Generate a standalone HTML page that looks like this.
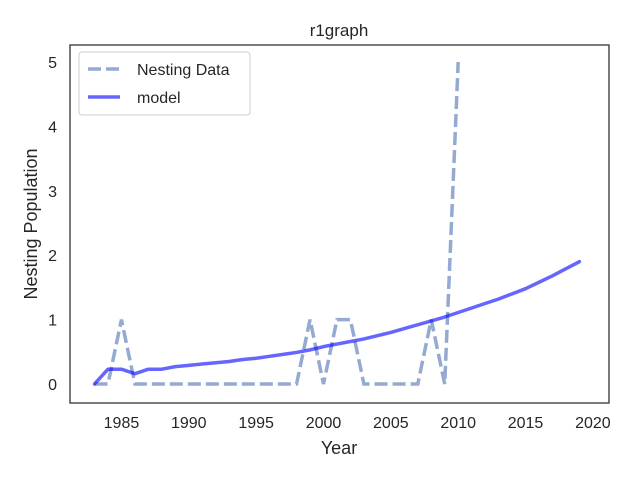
<!DOCTYPE html>
<html><head><meta charset="utf-8"><style>
body{margin:0;background:#fff;}
text{font-family:"Liberation Sans","DejaVu Sans",sans-serif;fill:#262626;}
</style></head><body>
<svg id="c" width="640" height="480" xmlns="http://www.w3.org/2000/svg">
<rect width="640" height="480" fill="#fff"/>
<text x="339" y="36" font-size="17" text-anchor="middle">r1graph</text>
<g id="ticks"></g>
<g id="plot"></g>
<rect x="70" y="45" width="539" height="358" fill="none" stroke="#333" stroke-width="1.3"/>
<text x="339" y="454" font-size="18" text-anchor="middle">Year</text>
<text transform="translate(37,224) rotate(-90)" font-size="18" text-anchor="middle">Nesting Population</text>
<g>
<rect x="79" y="52" width="171" height="63" rx="3" fill="#fff" stroke="#ccc"/>
<line x1="88" y1="69" x2="120" y2="69" stroke="#4c72b0" stroke-opacity="0.6" stroke-width="3.5" stroke-dasharray="13,5"/>
<text x="137" y="75" font-size="16">Nesting Data</text>
<line x1="88" y1="97" x2="120" y2="97" stroke="#0000ff" stroke-opacity="0.6" stroke-width="3.5"/>
<text x="137" y="103" font-size="16">model</text>
</g>
</svg>
<script>
const years=[1983,1984,1985,1986,1987,1988,1989,1990,1991,1992,1993,1994,1995,1996,1997,1998,1999,2000,2001,2002,2003,2004,2005,2006,2007,2008,2009,2010];
const nestingData=[0,0,1,0,0,0,0,0,0,0,0,0,0,0,0,0,1,0,1,1,0,0,0,0,0,1,0,5];
const modelYears=[1983,1984,1985,1986,1987,1988,1989,1990,1991,1992,1993,1994,1995,1996,1997,1998,1999,2000,2001,2002,2003,2004,2005,2006,2007,2008,2009,2010,2011,2012,2013,2014,2015,2016,2017,2018,2019];
const modelValues=[0,0.23,0.23,0.16,0.23,0.23,0.27,0.29,0.31,0.33,0.35,0.38,0.40,0.43,0.46,0.49,0.53,0.58,0.62,0.66,0.70,0.75,0.80,0.86,0.92,0.98,1.04,1.11,1.18,1.25,1.32,1.40,1.48,1.58,1.68,1.79,1.90];
const xTicks=[1985,1990,1995,2000,2005,2010,2015,2020];
const yTicks=[0,1,2,3,4,5];
const NS="http://www.w3.org/2000/svg";
const X=v=>94.5+(v-1983)*13.47;
const Y=v=>384-v*64.4;
const tk=document.getElementById('ticks'),pl=document.getElementById('plot');
xTicks.forEach(t=>{const e=document.createElementNS(NS,'text');e.setAttribute('x',X(t));e.setAttribute('y',428);e.setAttribute('font-size','16');e.setAttribute('text-anchor','middle');e.textContent=t;


tk.appendChild(e);});
yTicks.forEach(t=>{const e=document.createElementNS(NS,'text');e.setAttribute('x',57);e.setAttribute('y',Y(t)+6);e.setAttribute('font-size','16');e.setAttribute('text-anchor','end');e.textContent=t;


tk.appendChild(e);});
const d=document.createElementNS(NS,'polyline');
d.setAttribute('points',years.map((y,i)=>X(y)+','+Y(nestingData[i])).join(' '));
d.setAttribute('fill','none');d.setAttribute('stroke','#4c72b0');d.setAttribute('stroke-opacity','0.6');d.setAttribute('stroke-width','3.5');d.setAttribute('stroke-dasharray','13,5');


pl.appendChild(d);
const m=document.createElementNS(NS,'polyline');
m.setAttribute('points',modelYears.map((y,i)=>X(y)+','+Y(modelValues[i])).join(' '));
m.setAttribute('fill','none');m.setAttribute('stroke','#0000ff');m.setAttribute('stroke-opacity','0.6');m.setAttribute('stroke-width','3.5');m.setAttribute('stroke-linejoin','round');m.setAttribute('stroke-linecap','round');


pl.appendChild(m);
</script>
</body></html>
